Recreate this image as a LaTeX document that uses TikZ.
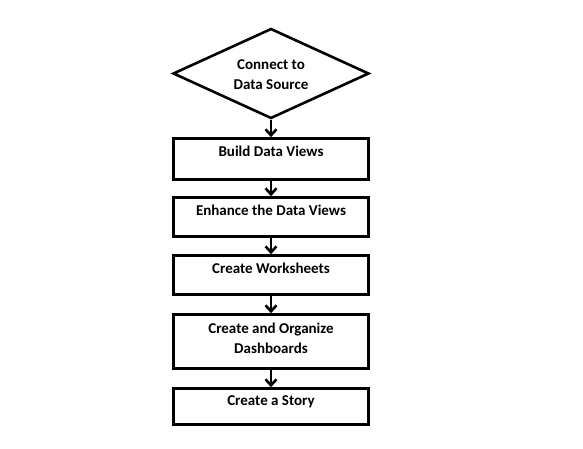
\documentclass[tikz,border=0pt]{standalone}
\usepackage{fontspec}
\setmainfont{Carlito}
\usetikzlibrary{positioning}
\usetikzlibrary{shapes.geometric, arrows.meta}
\tikzset{
  paso/.style={draw, line width=2.6pt, minimum width=195pt, inner sep=0pt,
    align=center, font=\bfseries\fontsize{15}{20}\selectfont,
    text height=10pt, text depth=14pt},
  flecha/.style={-{Straight Barb[length=6pt,width=11pt,line width=2.6pt]}, line width=2.8pt}
}
\begin{document}
\begin{tikzpicture}[x=1pt,y=-1pt]
  \useasboundingbox (0,0) rectangle (583,449);
  % Rombo de inicio
  \node[diamond, draw, line width=2.6pt, minimum width=196pt, minimum height=90pt,
    aspect=2.15, inner sep=0pt, align=center,
    font=\bfseries\fontsize{15}{20}\selectfont,
    text height=36pt, text depth=3pt] (fuente) at (271,73.5) {Connect to\\Data Source};
  % Pasos
  \node[paso, minimum height=41pt] (vistas) at (271,159) {Build Data Views};
  \node[paso, minimum height=39pt] (mejorar) at (271,217) {Enhance the Data Views};
  \node[paso, minimum height=39pt] (hojas) at (271,275) {Create Worksheets};
  \node[paso, minimum height=54pt, text height=30pt, text depth=7pt] (tableros) at (271,341.5) {Create and Organize\\Dashboards};
  \node[paso, minimum height=36pt, text depth=12pt] (historia) at (271,406.5) {Create a Story};
  % Flechas
  \draw[flecha] (fuente) -- (vistas);
  \draw[flecha] (vistas) -- (mejorar);
  \draw[flecha] (mejorar) -- (hojas);
  \draw[flecha] (hojas) -- (tableros);
  \draw[flecha] (tableros) -- (historia);
\end{tikzpicture}
\end{document}
